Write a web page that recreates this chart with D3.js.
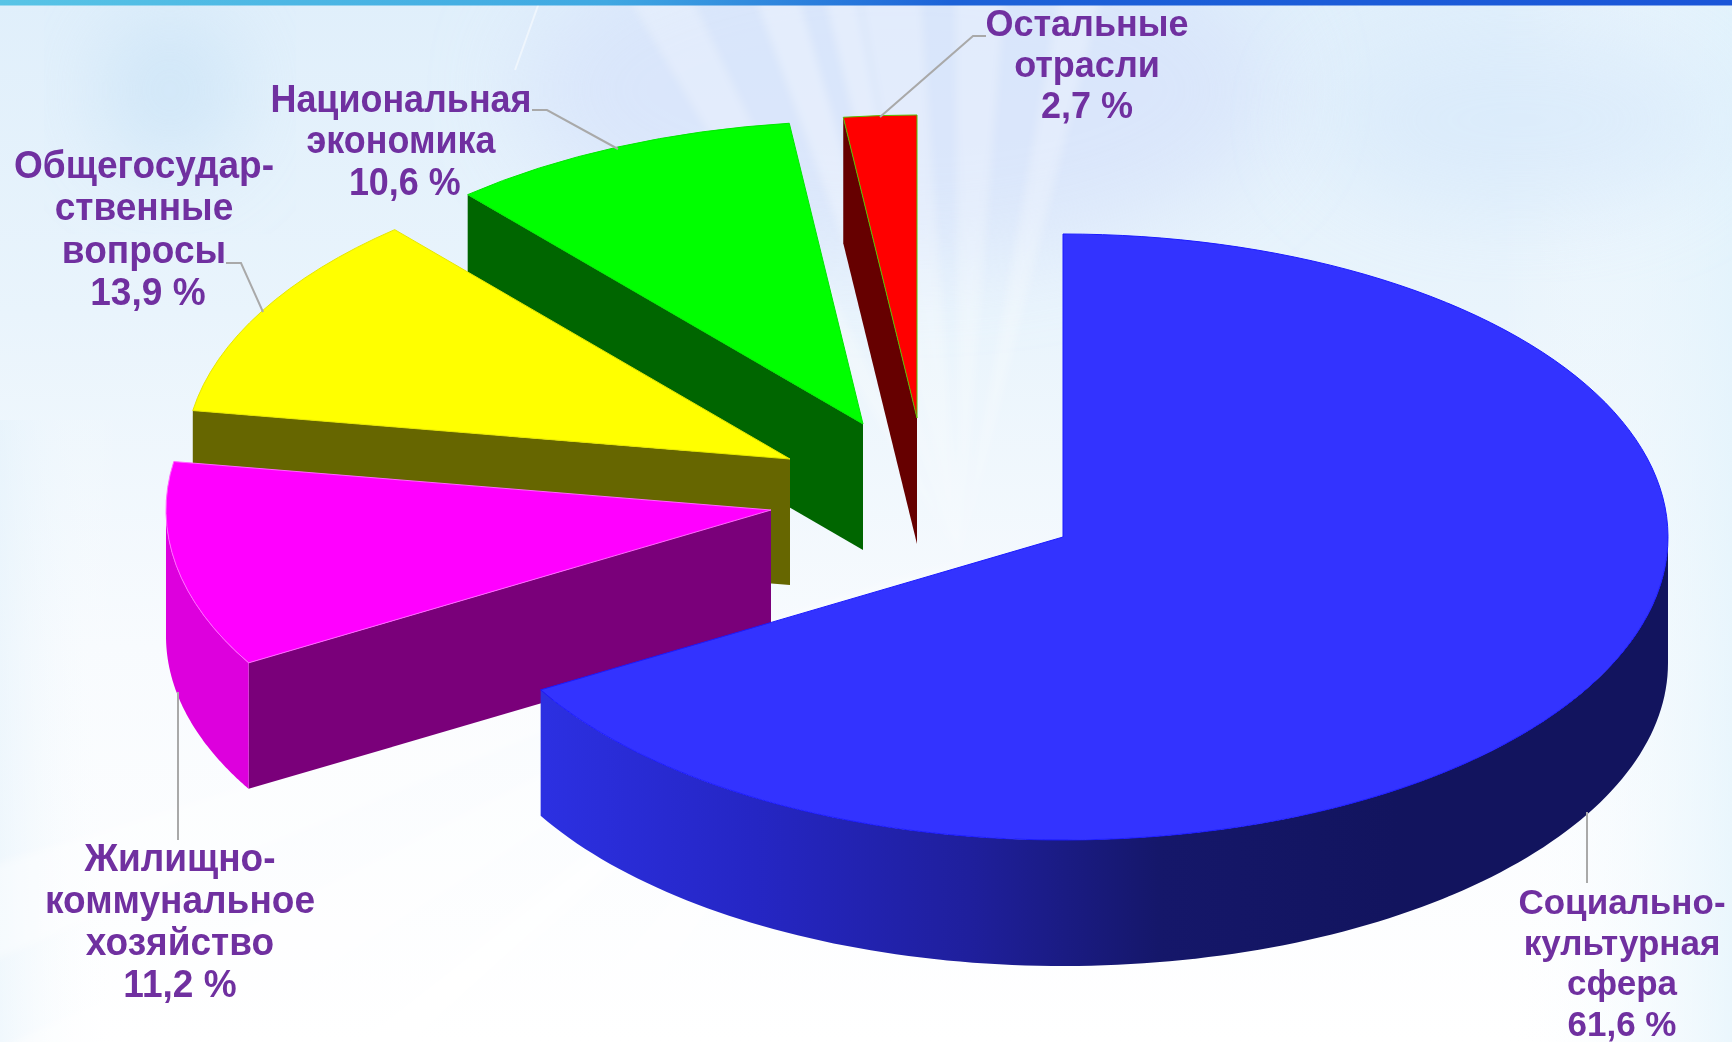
<!DOCTYPE html>
<html>
<head>
<meta charset="utf-8">
<script src="https://cdn.jsdelivr.net/npm/d3@7"></script>
<style>
  html, body { margin: 0; padding: 0; background: #fff; overflow: hidden; }
  svg { display: block; }
  .label { font-family: "Liberation Sans", Arial, sans-serif; font-weight: bold; fill: #7030a0; text-anchor: middle; }
  .leader { fill: none; stroke: #a9a9a9; stroke-width: 2; }
</style>
</head>
<body>
<div id="chart"></div>
<script>
// data
var categories = ["Социально-культурная сфера", "Жилищно-коммунальное хозяйство", "Общегосударственные вопросы", "Национальная экономика", "Остальные отрасли"];
var shares = [61.6, 11.2, 13.9, 10.6, 2.7];
var labelLines = [
  ["Социально-", "культурная", "сфера"],
  ["Жилищно-", "коммунальное", "хозяйство"],
  ["Общегосудар-", "ственные", "вопросы"],
  ["Национальная", "экономика"],
  ["Остальные", "отрасли"]
];

var width = 1732, height = 1042;

// pie geometry, the picture has its own perspective so the angles get warped
var center = {x: 1063, y: 537};
var rx = 605, ry = 303, depth = 126;
var drawnEdges = [0, 239.7, 279.2, 319.2, 353, 360];

// per slice look: how far it was pulled out, colours, label place
var offsets = [[0, 0], [-292, -27], [-273, -78], [-200, -113], [-146, -119]];
var topColors = ["#3333ff", "#ff00ff", "#ffff00", "#00ff00", "#ff0000"];
var edgeColors = ["#1a1aff", "#ff66ff", "#e6e600", "#00e600", "#55c000"];
var sideColors = ["#2020a0", "#7a007a", "#666600", "#006600", "#660000"];
var wallColors = ["url(#blueWall)", "#dd00dd", "#8c8c00", "#009900", "#990000"];
var labelPos = [
  {x: 1622, y: 914, size: 35, sx: 1, step: 40.5, valueDx: 0},
  {x: 180, y: 871, size: 38, sx: 0.975, step: 42, valueDx: 0},
  {x: 144, y: 178, size: 38, sx: 0.975, step: 42.3, valueDx: 4},
  {x: 401, y: 112, size: 38, sx: 0.945, step: 41.5, valueDx: 4},
  {x: 1087, y: 36, size: 36, sx: 1, step: 41, valueDx: 0}
];
var leaders = [
  [[1587, 812], [1587, 883]],
  [[178, 692], [178, 840]],
  [[226, 263], [241, 263], [263, 312]],
  [[532, 110], [547, 110], [618, 149]],
  [[986, 36], [973, 36], [880, 117]]
];

var svg = d3.select("#chart").append("svg").attr("width", width).attr("height", height);
var defs = svg.append("defs");

function addGradient(id, stops, x1, x2, y1, y2) {
  var g = defs.append("linearGradient").attr("id", id).attr("gradientUnits", "userSpaceOnUse")
    .attr("x1", x1).attr("x2", x2).attr("y1", y1).attr("y2", y2);
  stops.forEach(function(s) { g.append("stop").attr("offset", s[0]).attr("stop-color", s[1]).attr("stop-opacity", s[2] === undefined ? 1 : s[2]); });
}
addGradient("blueWall", [[0, "#2c30e2"], [0.25, "#2526c4"], [0.5, "#1f1f9c"], [0.72, "#15176a"], [1, "#12145e"]], 540, 1400, 0, 0);
addGradient("topBar", [[0, "#58c4e6"], [0.35, "#3fa8e2"], [0.55, "#1c62d8"], [1, "#1a55d8"]], 0, width, 0, 0);
addGradient("paper", [[0, "#e0effb"], [0.3, "#e9f4fc"], [0.62, "#f8fbfe"], [1, "#ffffff"]], 0, 0, 0, height);
addGradient("leftEdge", [[0, "#e2f1fb", 0.5], [1, "#ffffff", 0]], 0, 120, 0, 0);
addGradient("rightEdge", [[0, "#ffffff", 0], [1, "#e2f3fc", 0.7]], 1500, 1732, 0, 0);

defs.append("filter").attr("id", "soft").attr("x", "-20%").attr("y", "-20%").attr("width", "140%").attr("height", "140%")
  .append("feGaussianBlur").attr("stdDeviation", 4);
defs.append("filter").attr("id", "softer").attr("x", "-40%").attr("y", "-40%").attr("width", "180%").attr("height", "180%")
  .append("feGaussianBlur").attr("stdDeviation", 45);

// background
var bg = svg.append("g");
bg.append("rect").attr("width", width).attr("height", height).attr("fill", "url(#paper)");
bg.append("ellipse").attr("cx", 900).attr("cy", 90).attr("rx", 380).attr("ry", 170).attr("fill", "#d3defb").attr("opacity", 0.55).attr("filter", "url(#softer)");
bg.append("rect").attr("y", 420).attr("width", 120).attr("height", 622).attr("fill", "url(#leftEdge)");
bg.append("rect").attr("x", 1500).attr("width", 232).attr("height", height).attr("fill", "url(#rightEdge)");
bg.append("ellipse").attr("cx", 170).attr("cy", 90).attr("rx", 70).attr("ry", 80).attr("fill", "#c2dff5").attr("opacity", 0.6).attr("filter", "url(#softer)");
bg.append("ellipse").attr("cx", 1520).attr("cy", 120).attr("rx", 200).attr("ry", 90).attr("fill", "#d6e8fb").attr("opacity", 0.6).attr("filter", "url(#softer)");

// soft light streaks, fanned from behind the pie
var rays = bg.append("g").attr("filter", "url(#soft)");
[[-118, 5, 0.25], [-108, 4, 0.3], [-102, 3, 0.3], [-97, 6, 0.25], [-88, 5, 0.25], [-78, 4, 0.25], [128, 5, 0.45], [140, 4, 0.5], [150, 6, 0.4], [160, 5, 0.4], [60, 4, 0.35]].forEach(function(r) {
  var a = r[0] * Math.PI / 180, w = r[1] * Math.PI / 360, len = 1500, o = [960, 560];
  rays.append("path")
    .attr("d", d3.line()([o, [o[0] + len * Math.cos(a - w), o[1] + len * Math.sin(a - w)], [o[0] + len * Math.cos(a + w), o[1] + len * Math.sin(a + w)]]) + "Z")
    .attr("fill", "#ffffff").attr("opacity", r[2]);
});
bg.append("path").attr("d", "M540,0L515,70").attr("stroke", "#ffffff").attr("stroke-width", 2).attr("opacity", 0.5).attr("fill", "none");
bg.append("rect").attr("width", width).attr("height", 5.5).attr("fill", "url(#topBar)");

// pie
var pie = d3.pie().sort(null).value(function(d) { return d; }).startAngle(0).endAngle(360);
var arcs = pie(shares);
var cumulative = [0].concat(arcs.map(function(a) { return a.endAngle; }));
var warp = d3.scaleLinear().domain(cumulative).range(drawnEdges);
var rad = function(deg) { return deg * Math.PI / 180; };

var slices = arcs.map(function(a, i) {
  return {
    i: i,
    start: rad(warp(a.startAngle)),
    end: rad(warp(a.endAngle)),
    cx: center.x + offsets[i][0],
    cy: center.y + offsets[i][1]
  };
});

var arcPath = d3.arc().innerRadius(0).outerRadius(rx);
var wallArea = d3.area().x(function(d) { return d.x; }).y0(function(d) { return d.y; }).y1(function(d) { return d.y + depth; });

// paint from the back forward
var sliceG = svg.selectAll(".slice").data(slices.slice().reverse()).enter().append("g").attr("class", "slice");

// cut face along the slice's starting edge
sliceG.append("path")
  .attr("d", function(s) {
    var pts = [{x: s.cx, y: s.cy}, {x: s.cx + rx * Math.sin(s.start), y: s.cy - ry * Math.cos(s.start)}];
    return wallArea(pts) + "Z";
  })
  .attr("fill", function(s) { return sideColors[s.i]; });

// outer rim, only the part that faces the viewer
sliceG.append("path")
  .attr("d", function(s) {
    var from = Math.max(s.start, Math.PI / 2), to = Math.min(s.end, 3 * Math.PI / 2);
    if (to <= from) return null;
    var pts = d3.range(0, 121).map(function(k) {
      var t = from + (to - from) * k / 120;
      return {x: s.cx + rx * Math.sin(t), y: s.cy - ry * Math.cos(t)};
    });
    return wallArea(pts) + "Z";
  })
  .attr("fill", function(s) { return wallColors[s.i]; });

// top face
sliceG.append("path")
  .attr("transform", function(s) { return "translate(" + s.cx + "," + s.cy + ") scale(1," + (ry / rx) + ")"; })
  .attr("d", function(s) { return arcPath({startAngle: s.start, endAngle: s.end}); })
  .attr("fill", function(s) { return topColors[s.i]; })
  .attr("stroke", function(s) { return edgeColors[s.i]; })
  .attr("stroke-width", 1)
  .attr("vector-effect", "non-scaling-stroke");

// leaders
svg.selectAll(".leader").data(leaders).enter().append("path")
  .attr("class", "leader")
  .attr("d", d3.line());

// labels
var ruFormat = d3.formatLocale({decimal: ",", thousands: " ", grouping: [3], currency: ["", ""]}).format(".1f");
var labelG = svg.selectAll(".labelGroup").data(categories).enter().append("g")
  .attr("class", "labelGroup")
  .attr("data-category", function(d) { return d; })
  .attr("transform", function(d, i) { return "translate(" + labelPos[i].x + "," + labelPos[i].y + ") scale(" + labelPos[i].sx + ",1)"; });

labelG.selectAll("text")
  .data(function(d, i) {
    var rows = labelLines[i].map(function(t) { return {t: t, dx: 0, pos: labelPos[i]}; });
    rows.push({t: ruFormat(shares[i]) + " %", dx: labelPos[i].valueDx, pos: labelPos[i]});
    return rows;
  })
  .enter().append("text")
  .attr("class", "label")
  .attr("x", function(d) { return d.dx; })
  .attr("y", function(d, k) { return k * d.pos.step; })
  .attr("font-size", function(d) { return d.pos.size; })
  .text(function(d) { return d.t; });
</script>
</body>
</html>
